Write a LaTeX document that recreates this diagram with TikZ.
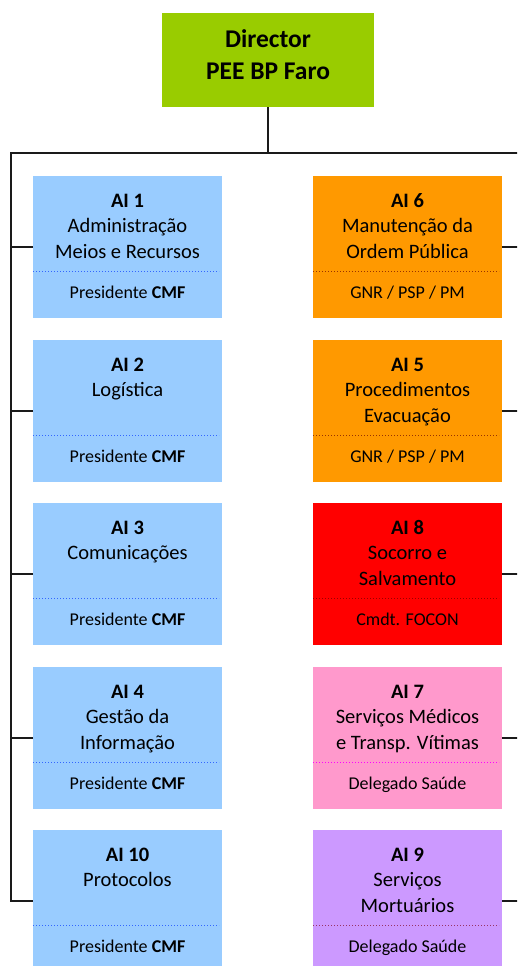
\documentclass[tikz,border=0pt]{standalone}
\usepackage{fontspec}
\setmainfont{Carlito}
\definecolor{dirgreen}{HTML}{99CC00}
\definecolor{aiblue}{HTML}{99CCFF}
\definecolor{aiorange}{HTML}{FF9900}
\definecolor{aired}{HTML}{FF0000}
\definecolor{aipink}{HTML}{FF99CC}
\definecolor{aipurple}{HTML}{CC99FF}
\definecolor{dotblue}{HTML}{3366FF}
\definecolor{dotbrown}{HTML}{993300}
\definecolor{dotdred}{HTML}{990000}
\definecolor{dotmag}{HTML}{FF00FF}
\definecolor{dotplum}{HTML}{993366}
\definecolor{linecol}{HTML}{1A1A1A}
\tikzset{
  aibox/.style={rectangle, draw=none, minimum width=189pt, minimum height=142pt, inner sep=0pt, outer sep=0pt},
  dirbox/.style={rectangle, fill=dirgreen, draw=none, minimum width=212pt, minimum height=94pt, inner sep=0pt, outer sep=0pt},
  ttl/.style={anchor=base, inner sep=0pt, font=\fontsize{20.5}{24}\selectfont\bfseries},
  txt/.style={anchor=base, inner sep=0pt, font=\fontsize{20.5}{24}\selectfont},
  btxt/.style={anchor=base, inner sep=0pt, font=\fontsize{18}{22}\selectfont},
  dirtxt/.style={anchor=base, inner sep=0pt, font=\fontsize{25.5}{30}\selectfont\bfseries},
  conn/.style={draw=linecol, line width=1.5pt},
  sepline/.style={dotted, line width=1pt}
}
\newcommand\aibox[9]{%
  \node[aibox, fill=#4, anchor=north west] (#1) at (#2,#3) {};
  \draw[sepline, #5] ([yshift=-95pt]#1.north west) -- ([yshift=-95pt,xshift=-3pt]#1.north east);
  \node[ttl] (#1a) at ([yshift=-31pt]#1.north) {#6};
  \node[txt] (#1b) at ([yshift=-56pt]#1.north) {#7};
  \node[txt] (#1c) at ([yshift=-82pt]#1.north) {#8};
  \node[btxt] (#1d) at ([yshift=-122pt]#1.north) {#9};
}
\begin{document}
\begin{tikzpicture}[x=1pt,y=-1pt]
\useasboundingbox (0,0) rectangle (517,966);
\clip (0,0) rectangle (517,966);
\fill[white] (0,0) rectangle (517,966);
% director
\node[dirbox, anchor=north west] (dir) at (162,13) {};
\node[dirtxt] (dira) at ([yshift=-35pt]dir.north) {Director};
\node[dirtxt] (dirb) at ([yshift=-67pt]dir.north) {PEE BP Faro};
% left column
\aibox{L1}{33}{176}{aiblue}{dotblue}{AI 1}{Administração}{Meios e Recursos}{Presidente \textbf{CMF}}
\aibox{L2}{33}{340}{aiblue}{dotblue}{AI 2}{Logística}{}{Presidente \textbf{CMF}}
\aibox{L3}{33}{503}{aiblue}{dotblue}{AI 3}{Comunicações}{}{Presidente \textbf{CMF}}
\aibox{L4}{33}{667}{aiblue}{dotblue}{AI 4}{Gestão da}{Informação}{Presidente \textbf{CMF}}
\aibox{L5}{33}{830}{aiblue}{dotblue}{AI 10}{Protocolos}{}{Presidente \textbf{CMF}}
% right column
\aibox{R1}{313}{176}{aiorange}{dotbrown}{AI 6}{Manutenção da}{Ordem Pública}{GNR / PSP / PM}
\aibox{R2}{313}{340}{aiorange}{dotbrown}{AI 5}{Procedimentos}{Evacuação}{GNR / PSP / PM}
\aibox{R3}{313}{503}{aired}{dotdred}{AI 8}{Socorro e}{Salvamento}{Cmdt. FOCON}
\aibox{R4}{313}{667}{aipink}{dotmag}{AI 7}{Serviços Médicos}{e Transp. Vítimas}{Delegado Saúde}
\aibox{R5}{313}{830}{aipurple}{dotplum}{AI 9}{Serviços}{Mortuários}{Delegado Saúde}
% connectors
\coordinate (hL) at (11,153);
\coordinate (hR) at (530,153);
\draw[conn] (dir.south) -- (dir.south |- hL);
\draw[conn] (hR) -- (hL) |- (L5.west);
\foreach \n in {L1,L2,L3,L4} {\draw[conn] (\n.west) -- (\n.west -| hL);}
\foreach \n in {R1,R2,R3,R4,R5} {\draw[conn] (\n.east) -- (\n.east -| hR);}
\end{tikzpicture}
\end{document}
